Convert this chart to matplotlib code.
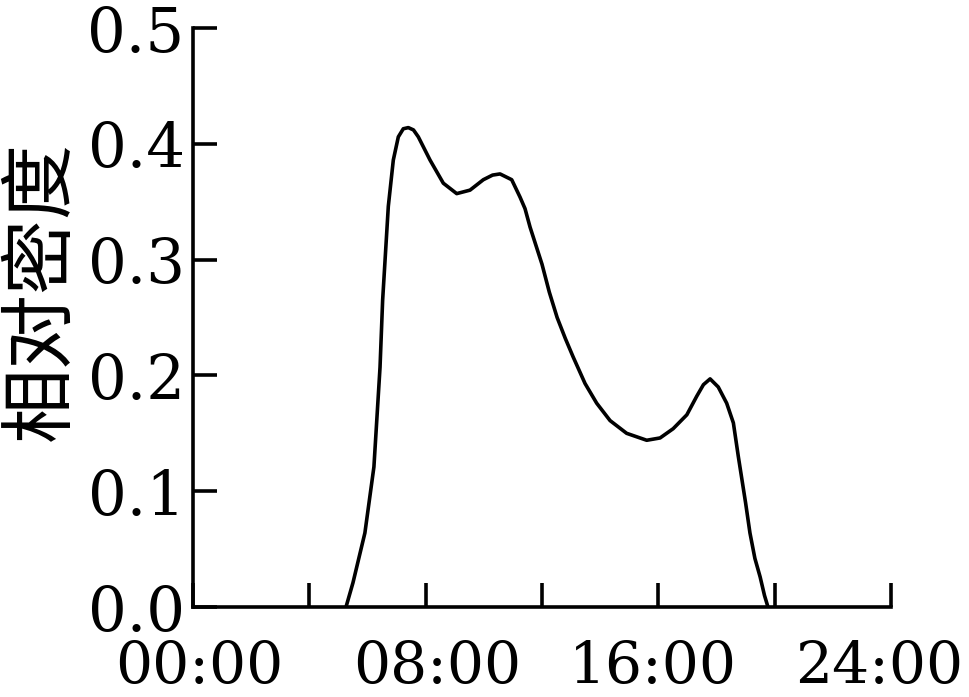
import matplotlib
matplotlib.use("Agg")
import matplotlib.pyplot as plt
import matplotlib.transforms as mtransforms
from matplotlib.ticker import FixedLocator, MultipleLocator

# hour of day and relative density
hours = [5.26, 5.50, 5.91, 6.22, 6.43, 6.52, 6.715, 6.887, 7.059, 7.23, 7.403,
         7.58, 7.747, 8.149, 8.606, 9.067, 9.524, 9.982, 10.30, 10.556, 10.958,
         11.244, 11.416, 11.59, 12.00, 12.25, 12.52, 12.80, 13.07, 13.48, 13.88,
         14.34, 14.91, 15.60, 16.06, 16.51, 16.98, 17.32, 17.55, 17.78, 18.06,
         18.35, 18.58, 18.75, 19.00, 19.15, 19.32, 19.50, 19.65, 19.77]
density = [0.000, 0.021, 0.064, 0.121, 0.207, 0.265, 0.346, 0.386, 0.406, 0.413,
           0.414, 0.412, 0.406, 0.386, 0.366, 0.357, 0.360, 0.369, 0.373, 0.374,
           0.369, 0.354, 0.344, 0.328, 0.296, 0.272, 0.250, 0.232, 0.216, 0.193,
           0.176, 0.161, 0.150, 0.144, 0.146, 0.154, 0.166, 0.182, 0.192, 0.197,
           0.190, 0.176, 0.159, 0.130, 0.090, 0.064, 0.042, 0.026, 0.010, 0.000]

label_hours = [0, 8, 16, 24]
label_text = ["00:00", "08:00", "16:00", "24:00"]
minor_hours = [4, 12, 20]

fig = plt.figure(figsize=(9.69, 6.97), dpi=100)
ax = fig.add_axes([0.1992, 0.1291, 0.7203, 0.8307])

ax.plot(hours, density, color="black", lw=2.6,
        solid_joinstyle="round", solid_capstyle="round")

ax.set_xlim(0, 24)
ax.set_ylim(0, 0.5)
ax.spines["top"].set_visible(False)
ax.spines["right"].set_visible(False)
for s in ("left", "bottom"):
    ax.spines[s].set_linewidth(2.6)
    ax.spines[s].set_capstyle("projecting")

ax.xaxis.set_major_locator(FixedLocator(label_hours))
ax.xaxis.set_minor_locator(FixedLocator(minor_hours))
ax.set_xticklabels(label_text)
ax.yaxis.set_major_locator(MultipleLocator(0.1))
ax.set_yticklabels([f"{v:.1f}" for v in ax.get_yticks()])

ax.tick_params(axis="both", which="both", direction="in", length=17, width=2.6)
ax.tick_params(axis="x", which="major", pad=23)
ax.tick_params(axis="y", pad=6)
for lab in ax.get_yticklabels():
    lab.set_fontfamily("DejaVu Serif")
    lab.set_fontsize(44)

# the time labels sit a little off their ticks in the original
shifts = [6, 12, -5, -12]
for lab, dx in zip(ax.get_xticklabels(), shifts):
    lab.set_fontfamily("DejaVu Serif")
    lab.set_fontsize(42)
    lab.set_transform(lab.get_transform() +
                      mtransforms.ScaledTranslation(dx / 100, 0, fig.dpi_scale_trans))

ax.set_ylabel("相对密度", fontsize=54, family=["Noto Sans CJK SC", "DejaVu Sans"])
ax.yaxis.set_label_coords(-0.163, 0.545)

fig.savefig("out.png", dpi=100)
